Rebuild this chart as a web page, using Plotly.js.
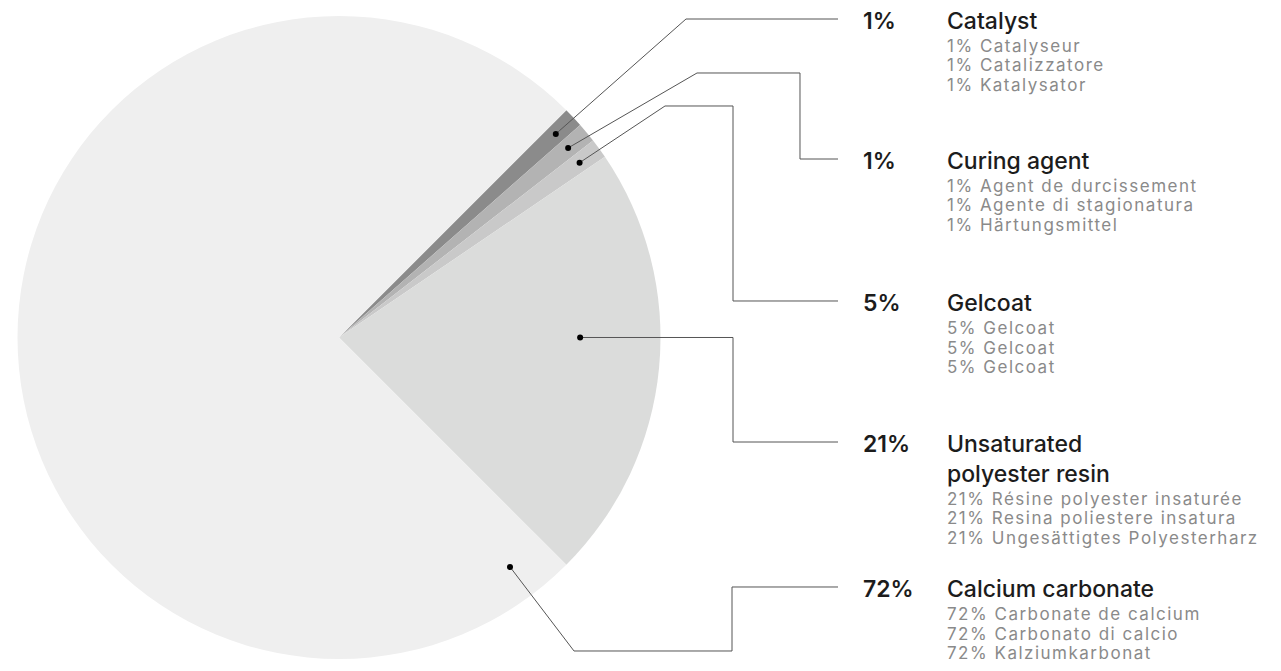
<!DOCTYPE html>
<html>
<head>
<meta charset="utf-8">
<script src="https://cdn.plot.ly/plotly-3.0.1.min.js"></script>
<style>html,body{margin:0;padding:0;background:#fff;}#chart{width:1281px;height:671px;}</style>
</head>
<body>
<div id="chart"></div>
<script>
// ---- data ----
const categories = ['Catalyst', 'Curing agent', 'Gelcoat', 'Unsaturated polyester resin', 'Calcium carbonate'];
const labelPercents = [1, 1, 5, 21, 72];          // percentages printed in the labels
const sliceShares = [1, 1, 1, 22, 75];            // slice sizes as drawn in the pie
const titleLines = [['Catalyst'], ['Curing agent'], ['Gelcoat'], ['Unsaturated', 'polyester resin'], ['Calcium carbonate']];
const frNames = ['Catalyseur', 'Agent de durcissement', 'Gelcoat', 'Résine polyester insaturée', 'Carbonate de calcium'];
const itNames = ['Catalizzatore', 'Agente di stagionatura', 'Gelcoat', 'Resina poliestere insatura', 'Carbonato di calcio'];
const deNames = ['Katalysator', 'Härtungsmittel', 'Gelcoat', 'Ungesättigtes Polyesterharz', 'Kalziumkarbonat'];

// ---- style / layout config ----
const W = 1281, H = 671;
const sliceColors = ['#8b8b8b', '#b3b3b3', '#c9c9c9', '#dbdcdb', '#efefef'];
const pieBox = {x0: 17, x1: 661, y0: 16, y1: 659};
const rotation = 45;
const anchors = [
  {angle: null, r: 0.925}, {angle: null, r: 0.925}, {angle: null, r: 0.925},
  {angle: 90, r: 0.75}, {angle: 143.3, r: 0.89}
];
const routes = [
  [[686, 19], [838, 19]],
  [[697, 73], [800, 73], [800, 159], [838, 159]],
  [[665, 106], [733, 106], [733, 301], [838, 301]],
  [['h', 733], [733, 442], [838, 442]],
  [[574, 651], [732, 651], [732, 587], [838, 587]]
];
const pctX = 862, titleX = 946;
const titleSize = 23, subSize = 17;
const titleLineH = 1.3 * titleSize, subStart = 25, subGap = 19.5;
const subTracking = '1.5px';
const FONT = 'Inter, Liberation Sans, Arial, sans-serif';

const px = x => x / W;
const py = y => 1 - y / H;

const cx = (pieBox.x0 + pieBox.x1) / 2, cy = (pieBox.y0 + pieBox.y1) / 2;
const R = Math.min(pieBox.x1 - pieBox.x0, pieBox.y1 - pieBox.y0) / 2;
const total = sliceShares.reduce((a, b) => a + b, 0);

const shapes = [];
const annotations = [];
let acc = 0;
sliceShares.forEach((v, i) => {
  const mid = rotation + (acc + v / 2) / total * 360;
  acc += v;
  const a = anchors[i];
  const ang = (a.angle === null ? mid : a.angle) * Math.PI / 180;
  const ax = cx + a.r * R * Math.sin(ang);
  const ay = cy - a.r * R * Math.cos(ang);
  let pts = [[ax, ay]];
  routes[i].forEach(p => {
    if (p[0] === 'h') pts.push([p[1], ay]); else pts.push(p);
  });
  const path = pts.map((p, k) => (k ? 'L' : 'M') + px(p[0]).toFixed(5) + ',' + py(p[1]).toFixed(5)).join(' ');
  shapes.push({type: 'path', xref: 'paper', yref: 'paper', path: path,
    line: {color: '#555', width: 1}, layer: 'above'});
  shapes.push({type: 'circle', xref: 'paper', yref: 'paper',
    x0: px(ax - 3), x1: px(ax + 3), y0: py(ay + 3), y1: py(ay - 3),
    fillcolor: '#000', line: {width: 0}, layer: 'above'});

  const lineY = routes[i][routes[i].length - 1][1];
  const tY = lineY + 2;
  annotations.push({xref: 'paper', yref: 'paper', x: px(pctX), y: py(tY), xanchor: 'left', yanchor: 'middle',
    text: labelPercents[i] + '%', showarrow: false, borderpad: 0,
    font: {family: FONT, size: titleSize, color: '#1c1c1c', weight: 600}});
  const nL = titleLines[i].length;
  // centre of the whole title block so that its first line is centred on tY
  const blockMid = tY + (nL - 1) * titleLineH / 2;
  annotations.push({xref: 'paper', yref: 'paper', x: px(titleX), y: py(blockMid), xanchor: 'left', yanchor: 'middle',
    align: 'left', text: titleLines[i].join('<br>'), showarrow: false, borderpad: 0,
    font: {family: FONT, size: titleSize, color: '#1c1c1c', weight: 500}});
  const yy = tY + (nL - 1) * titleLineH + subStart;
  [frNames[i], itNames[i], deNames[i]].forEach((t, k) => {
    annotations.push({xref: 'paper', yref: 'paper', x: px(titleX), y: py(yy + k * subGap), xanchor: 'left', yanchor: 'middle',
      text: '<span style="letter-spacing:' + subTracking + '">' + labelPercents[i] + '% ' + t + '</span>',
      showarrow: false, borderpad: 0,
      font: {family: FONT, size: subSize, color: '#8a8a8a'}});
  });
});

const trace = {
  type: 'pie',
  labels: categories,
  values: sliceShares,
  sort: false,
  direction: 'clockwise',
  rotation: rotation,
  marker: {colors: sliceColors, line: {width: 0}},
  textinfo: 'none',
  hoverinfo: 'label',
  showlegend: false,
  domain: {x: [px(pieBox.x0), px(pieBox.x1)], y: [py(pieBox.y1), py(pieBox.y0)]}
};

Plotly.newPlot('chart', [trace], {
  width: W, height: H,
  margin: {l: 0, r: 0, t: 0, b: 0},
  paper_bgcolor: '#fff',
  showlegend: false,
  shapes: shapes,
  annotations: annotations
}, {displayModeBar: false, staticPlot: true});
</script>
</body>
</html>
